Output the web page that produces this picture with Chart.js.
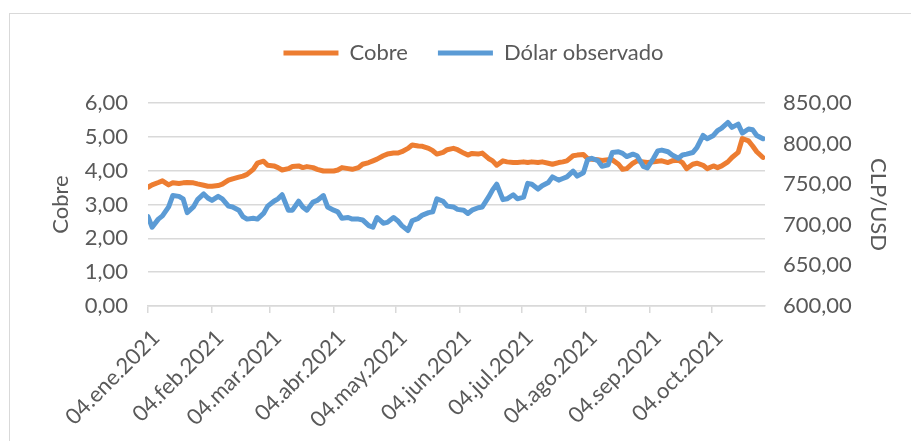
<!DOCTYPE html>
<html lang="es">
<head>
<meta charset="utf-8">
<title>Cobre y Dólar observado</title>
<script src="https://cdn.jsdelivr.net/npm/chart.js@4.4.1/dist/chart.umd.min.js"></script>
<style>
    html, body { margin: 0; padding: 0; background: #fff; }
    #wrap { position: relative; width: 911px; height: 441px; overflow: hidden; }
    #marco { position: absolute; left: 9px; top: 13px; width: 1000px; height: 600px; border: 1px solid #d9d9d9; box-sizing: border-box; }
    #grafico { position: absolute; left: 0; top: 0; }
</style>
</head>
<body>
<div id="wrap">
    <div id="marco"></div>
    <canvas id="grafico" width="911" height="441"></canvas>
</div>
<script>
// días desde 04.ene.2021
const dias = [0, 2, 5, 7, 10, 12, 15, 17, 19, 22, 24, 27, 29, 31, 34, 36, 39, 41, 44, 46,
    48, 51, 53, 56, 58, 61, 63, 65, 68, 70, 73, 75, 77, 80, 82, 85, 87, 90, 92, 94,
    97, 99, 102, 104, 107, 109, 111, 114, 116, 119, 121, 123, 126, 128, 131, 133, 136, 138, 140, 143,
    145, 148, 150, 153, 155, 157, 160, 162, 165, 167, 169, 172, 174, 177, 179, 182, 184, 186, 189, 191,
    194, 196, 199, 201, 203, 206, 208, 211, 213, 215, 218, 220, 223, 225, 228, 230, 232, 235, 237, 240,
    242, 245, 247, 249, 252, 254, 257, 259, 261, 264, 266, 269, 271, 274, 276, 278, 281, 283, 286, 288,
    291, 293, 295, 298];

const cobre = [3.51, 3.58, 3.65, 3.70, 3.58, 3.64, 3.62, 3.64, 3.65, 3.64, 3.61, 3.57, 3.54, 3.54, 3.56, 3.60, 3.72, 3.76, 3.81, 3.84, 3.89,
    4.04, 4.22, 4.28, 4.16, 4.14, 4.09, 4.02, 4.06, 4.12, 4.14, 4.09, 4.12, 4.09, 4.04, 3.99, 3.99, 3.99, 4.02, 4.09, 4.06, 4.04,
    4.09, 4.19, 4.24, 4.29, 4.34, 4.44, 4.49, 4.52, 4.52, 4.56, 4.66, 4.76, 4.73, 4.72, 4.66, 4.59, 4.49, 4.54, 4.62, 4.66, 4.62,
    4.52, 4.46, 4.51, 4.49, 4.52, 4.36, 4.29, 4.16, 4.29, 4.26, 4.24, 4.24, 4.26, 4.24, 4.26, 4.24, 4.26, 4.22, 4.19, 4.24, 4.26,
    4.29, 4.44, 4.46, 4.48, 4.36, 4.34, 4.32, 4.30, 4.32, 4.32, 4.19, 4.04, 4.06, 4.22, 4.29, 4.26, 4.24, 4.26, 4.28, 4.29, 4.24,
    4.29, 4.31, 4.24, 4.06, 4.19, 4.22, 4.16, 4.06, 4.14, 4.09, 4.14, 4.26, 4.39, 4.54, 4.95, 4.88, 4.73, 4.56, 4.39];

const dolar = [710, 697, 707, 711, 722, 736, 735, 732, 715, 722, 731, 738, 733, 730, 735, 732, 723, 722, 718, 710, 707,
    708, 707, 714, 723, 729, 732, 737, 718, 718, 729, 722, 718, 728, 730, 736, 722, 718, 716, 708, 709, 707,
    707, 706, 699, 697, 709, 702, 703, 709, 705, 699, 693, 705, 708, 712, 715, 716, 732, 729, 723, 722, 719,
    718, 714, 718, 721, 722, 734, 743, 750, 731, 732, 737, 732, 734, 751, 750, 744, 748, 752, 759, 755, 757,
    759, 766, 760, 764, 780, 782, 779, 772, 774, 789, 790, 788, 784, 787, 785, 772, 770, 782, 791, 792, 790,
    786, 782, 786, 787, 789, 795, 810, 806, 810, 816, 819, 826, 820, 824, 813, 818, 817, 810, 806];

const tickDias = [0, 31, 59, 90, 120, 151, 181, 212, 243, 273];
const tickEtiquetas = ["04.ene.2021", "04.feb.2021", "04.mar.2021", "04.abr.2021", "04.may.2021",
    "04.jun.2021", "04.jul.2021", "04.ago.2021", "04.sep.2021", "04.oct.2021"];

(function () {
    "use strict";

    const GRIS = "#d9d9d9";
    const TEXTO = "#595959";

    function fmt(v, dec) {
        return v.toFixed(dec).replace(".", ",");
    }

    function puntos(ys) {
        return dias.map((d, i) => ({ x: d, y: ys[i] }));
    }

    // deja aire entre la leyenda y el área del gráfico
    const margenLeyenda = {
        id: "margenLeyenda",
        beforeInit(chart) {
            const fitOrig = chart.legend.fit;
            chart.legend.fit = function () {
                fitOrig.call(this);
                this.height += 29;
            };
        }
    };

    Chart.defaults.font.family = "Lato, 'Open Sans', sans-serif";
    Chart.defaults.font.size = 22;
    Chart.defaults.color = TEXTO;

    const ctx = document.getElementById("grafico").getContext("2d");

    new Chart(ctx, {
        type: "line",
        data: {
            datasets: [{
                label: "Cobre",
                data: puntos(cobre),
                yAxisID: "yCobre",
                borderColor: "#ed7d31",
                backgroundColor: "#ed7d31",
                borderWidth: 5,
                order: 1
            }, {
                label: "Dólar observado",
                data: puntos(dolar),
                yAxisID: "yDolar",
                borderColor: "#5b9bd5",
                backgroundColor: "#5b9bd5",
                borderWidth: 5,
                order: 0
            }]
        },
        options: {
            responsive: false,
            animation: false,
            layout: { padding: { top: 12, left: 36, right: 0, bottom: 0 } },
            elements: {
                point: { radius: 0, hoverRadius: 0 },
                line: { tension: 0, borderJoinStyle: "round", borderCapStyle: "round" }
            },
            plugins: {
                tooltip: { enabled: false },
                legend: {
                    position: "top",
                    labels: {
                        boxWidth: 55,
                        boxHeight: 5,
                        padding: 30,
                        color: TEXTO,
                        sort: (a, b) => a.datasetIndex - b.datasetIndex,
                        generateLabels: chart =>
                            Chart.defaults.plugins.legend.labels.generateLabels(chart)
                                .map(l => Object.assign(l, { lineWidth: 0, fillStyle: l.strokeStyle }))
                    }
                }
            },
            scales: {
                x: {
                    type: "linear",
                    min: 0,
                    max: 299,
                    afterBuildTicks: s => { s.ticks = tickDias.map(v => ({ value: v })); },
                    afterFit: s => { s.height = 135; },
                    grid: { drawOnChartArea: false, drawTicks: true, tickLength: 7, color: GRIS, lineWidth: 1.5 },
                    border: { color: GRIS, width: 1.5 },
                    ticks: {
                        autoSkip: false,
                        minRotation: 45,
                        maxRotation: 45,
                        padding: 12,
                        labelOffset: 8,
                        callback: (v, i) => tickEtiquetas[i]
                    }
                },
                yCobre: {
                    position: "left",
                    min: 0,
                    max: 6,
                    afterFit: s => { s.width = 112; },
                    grid: { color: GRIS, lineWidth: 1.5, drawTicks: false },
                    border: { display: false },
                    ticks: { stepSize: 1, padding: 20, callback: v => fmt(v, 2) },
                    title: { display: true, text: "Cobre", color: TEXTO, padding: { top: 12, bottom: 0 } }
                },
                yDolar: {
                    position: "right",
                    min: 600,
                    max: 850,
                    afterFit: s => { s.width = 146; },
                    grid: { drawOnChartArea: false, drawTicks: false },
                    border: { display: false },
                    ticks: { stepSize: 50, padding: 18, callback: v => fmt(v, 2) },
                    title: { display: true, text: "CLP/USD", color: TEXTO, padding: { top: 20, bottom: 0 } }
                }
            }
        },
        plugins: [margenLeyenda]
    });
})();
</script>
</body>
</html>
